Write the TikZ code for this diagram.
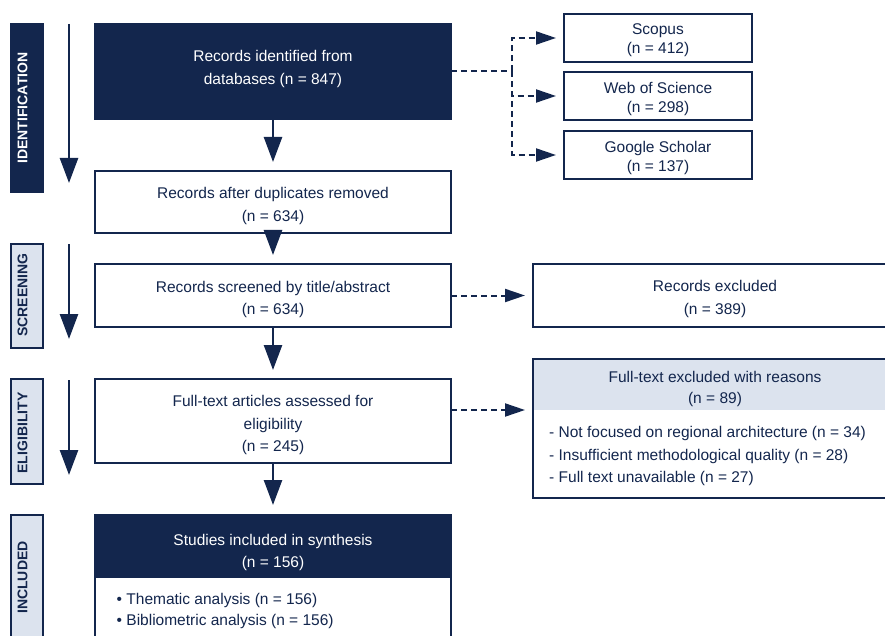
\documentclass[tikz,border=0pt]{standalone}
\usepackage{fontspec}
\setmainfont{Liberation Sans}
\usetikzlibrary{arrows.meta}
\definecolor{navy}{HTML}{13264D}
\definecolor{pale}{HTML}{DCE3EE}
\tikzset{
  frame/.style={draw=navy, line width=2pt, inner sep=0pt, outer sep=0pt, anchor=north west},
  darkbox/.style={frame, fill=navy},
  whitebox/.style={frame, fill=white},
  phasebox/.style={frame, fill=pale},
  hdrfill/.style={fill=pale, inner sep=0pt, outer sep=0pt, anchor=north west},
  txt/.style={text=navy, align=center, font=\fontsize{15.5}{22.7}\selectfont, inner sep=0pt},
  wtxt/.style={txt, text=white},
  listtxt/.style={text=navy, align=left, font=\fontsize{15.5}{22.7}\selectfont, inner sep=0pt, anchor=north west},
  srcbox/.style={whitebox, minimum width=188pt, minimum height=48pt},
  srctxt/.style={txt, font=\fontsize{15.5}{19}\selectfont},
  phasetxt/.style={rotate=90, font=\bfseries\fontsize{14}{14}\selectfont, inner sep=0pt},
  flow/.style={navy, line width=2.5pt, -{Triangle[length=25pt,width=18pt]}},
  dashline/.style={navy, line width=2pt, dash pattern=on 6pt off 4pt},
  dasharrow/.style={dashline, -{Triangle[length=20pt,width=13pt]}},
}
\begin{document}
\begin{tikzpicture}[x=1pt,y=-1pt]
\path[use as bounding box] (0,0) rectangle (885,636);
\clip (0,0) rectangle (885,636);

% phase labels
\node[darkbox, minimum width=32pt, minimum height=168pt] (L1) at (11,24) {};
\node[phasetxt, text=white] (L1t) at (22.5,108) {IDENTIFICATION};
\node[phasebox, minimum width=32pt, minimum height=104pt] (L2) at (11,244) {};
\node[phasetxt, text=navy] (L2t) at (22.5,295) {SCREENING};
\node[phasebox, minimum width=32pt, minimum height=105pt] (L3) at (11,379) {};
\node[phasetxt, text=navy] (L3t) at (22.5,433) {ELIGIBILITY};
\node[phasebox, minimum width=32pt, minimum height=150pt] (L4) at (11,515) {};
\node[phasetxt, text=navy] (L4t) at (22.5,577.5) {INCLUDED};

% phase arrows
\coordinate (a1s) at (69,24);  \coordinate (a1e) at (69,183);
\coordinate (a2s) at (69,244); \coordinate (a2e) at (69,339);
\coordinate (a3s) at (69,380); \coordinate (a3e) at (69,475);
\draw[flow] (a1s) -- (a1e);
\draw[flow] (a2s) -- (a2e);
\draw[flow] (a3s) -- (a3e);

% main boxes
\node[darkbox, minimum width=356pt, minimum height=95pt] (b1) at (95,24) {};
\node[wtxt] (t1) at (273,69) {Records identified from\\databases (n = 847)};
\node[whitebox, minimum width=356pt, minimum height=62pt] (b2) at (95,171) {};
\node[txt] (t2) at (273,206) {Records after duplicates removed\\(n = 634)};
\node[whitebox, minimum width=356pt, minimum height=63pt] (b3) at (95,264) {};
\node[txt] (t3) at (273,299.5) {Records screened by title/abstract\\(n = 634)};
\node[whitebox, minimum width=356pt, minimum height=84pt] (b4) at (95,379) {};
\node[txt] (t4) at (273,425) {Full-text articles assessed for\\eligibility\\(n = 245)};
\node[whitebox, minimum width=356pt, minimum height=150pt] (b5) at (95,515) {};
\node[darkbox, minimum width=356pt, minimum height=62pt] (b5h) at (95,515) {};
\node[wtxt] (t5) at (273,552.5) {Studies included in synthesis\\(n = 156)};
\node[listtxt, font=\fontsize{15.5}{20.7}\selectfont] (t5b) at (116.5,593) {• Thematic analysis (n = 156)\\• Bibliometric analysis (n = 156)};

% flow arrows
\draw[flow, shorten >=9pt] (b1.south) -- (b2.north);
\draw[flow, shorten >=9pt] (b2.south) -- (b3.north);
\draw[flow, shorten >=9pt] (b3.south) -- (b4.north);
\draw[flow, shorten >=10pt] (b4.south) -- (b5.north);

% sources
\node[srcbox] (s1) at (564,14) {};
\node[srctxt] (s1t) at (658,40.5) {Scopus\\(n = 412)};
\node[srcbox] (s2) at (564,72) {};
\node[srctxt] (s2t) at (658,98.5) {Web of Science\\(n = 298)};
\node[srcbox] (s3) at (564,131) {};
\node[srctxt] (s3t) at (658,157.5) {Google Scholar\\(n = 137)};
\coordinate (split) at (512,71.5);
\draw[dashline] (b1.east) -- (split);
\draw[dasharrow, shorten >=8pt] (split) |- (s1.west);
\draw[dasharrow, shorten >=8pt] (split) |- (s2.west);
\draw[dasharrow, shorten >=8pt] (split) |- (s3.west);

% exclusions
\node[whitebox, minimum width=362pt, minimum height=63pt] (ex1) at (533,264) {};
\node[txt] (t6) at (715,299.3) {Records excluded\\(n = 389)};
\draw[dasharrow, shorten >=8pt] (b3.east) -- (ex1.west);

\node[hdrfill, minimum width=362pt, minimum height=51pt] (ex2h) at (533,359) {};
\node[frame, minimum width=362pt, minimum height=139pt] (ex2) at (533,359) {};
\node[txt, font=\fontsize{15.5}{21}\selectfont] (t7) at (715,389) {Full-text excluded with reasons\\(n = 89)};
\node[listtxt] (t7b) at (549,426) {- Not focused on regional architecture (n = 34)\\- Insufficient methodological quality (n = 28)\\- Full text unavailable (n = 27)};
\draw[dasharrow, shorten >=8pt] (b4.east |- ex2h.south) -- (ex2h.south west);
\end{tikzpicture}
\end{document}
